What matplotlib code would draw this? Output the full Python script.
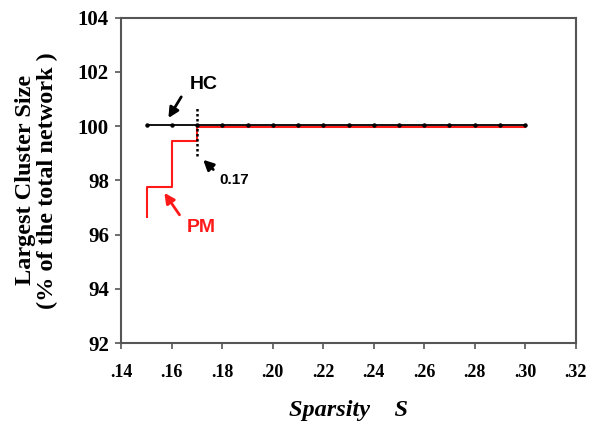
import matplotlib.pyplot as plt

# data
hc_x = [.15, .16, .17, .18, .19, .20, .21, .22, .23, .24, .25, .26, .27, .28, .29, .30]
hc_y = [100.05] * len(hc_x)

pm_x = [.15, .15, .16, .17, .30]
pm_y = [96.65, 97.75, 99.45, 99.97, 99.97]

x_ticks = [.14, .16, .18, .20, .22, .24, .26, .28, .30, .32]
x_labels = ['.14', '.16', '.18', '.20', '.22', '.24', '.26', '.28', '.30', '.32']
y_ticks = [92, 94, 96, 98, 100, 102, 104]

plt.rcParams['font.family'] = ['Liberation Serif', 'DejaVu Serif']

fig = plt.figure(figsize=(5.94, 4.21), dpi=100)
ax = fig.add_axes([0.2045, 0.185, 0.7645, 0.773])

ax.plot(pm_x, pm_y, color='#ff1a1a', lw=1.5, drawstyle='steps-post')
ax.plot(hc_x, hc_y, color='black', lw=1.3, marker='o', markersize=2.2)
ax.plot([.17, .17], [98.9, 100.7], color='black', lw=1.8, ls=(0, (1, 1)))

# arrows and labels
blk = dict(arrowstyle='-|>', color='black', lw=2, mutation_scale=15, shrinkA=0, shrinkB=0)
red = dict(arrowstyle='-|>', color='#ff1a1a', lw=2, mutation_scale=15, shrinkA=0, shrinkB=0)
ax.annotate('', xy=(.1586, 100.3), xytext=(.1637, 101.08), arrowprops=blk)
ax.annotate('', xy=(.1724, 98.76), xytext=(.1764, 98.4), arrowprops=blk)
ax.annotate('', xy=(.157, 97.54), xytext=(.163, 96.73), arrowprops=red)
ax.text(.1669, 101.53, 'HC', fontsize=14, fontweight='bold', family='Liberation Sans',
        ha='left', va='center')
ax.text(.1788, 98.02, '0.17', fontsize=11, fontweight='bold', family='Liberation Sans',
        ha='left', va='center')
ax.text(.1657, 96.25, 'PM', fontsize=14, fontweight='bold', family='Liberation Sans',
        color='#ff1a1a', ha='left', va='center')

ax.set_xlim(.14, .32)
ax.set_ylim(92, 104)
ax.set_xticks(x_ticks)
ax.set_xticklabels(x_labels, fontsize=13, fontweight='bold')
ax.set_yticks(y_ticks)
ax.set_yticklabels([str(v) for v in y_ticks], fontsize=15, fontweight='bold')
ax.tick_params(direction='out', length=4, width=1.2, color='#555555')
ax.tick_params(axis='x', pad=11)
ax.tick_params(axis='y', pad=5)
for s in ax.spines.values():
    s.set_color('#555555')
    s.set_linewidth(1.5)

ax.set_xlabel('Sparsity    S', fontsize=17.5, fontweight='bold', style='italic', labelpad=14)
ax.set_ylabel('Largest Cluster Size\n(% of the total network )', fontsize=17.5,
              fontweight='bold', labelpad=14, linespacing=1.1)

plt.savefig('out.png', dpi=100)
plt.close()
